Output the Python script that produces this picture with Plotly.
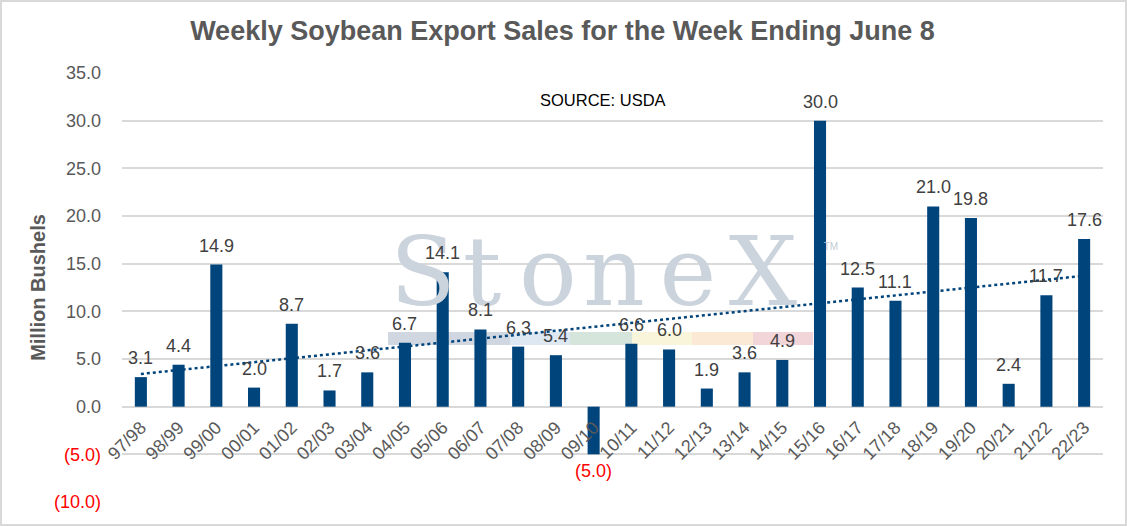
import numpy as np
import plotly.graph_objects as go

# ---------------- data ----------------
categories = ["97/98", "98/99", "99/00", "00/01", "01/02", "02/03", "03/04", "04/05",
              "05/06", "06/07", "07/08", "08/09", "09/10", "10/11", "11/12", "12/13",
              "13/14", "14/15", "15/16", "16/17", "17/18", "18/19", "19/20", "20/21",
              "21/22", "22/23"]
sales = [3.1, 4.4, 14.9, 2.0, 8.7, 1.7, 3.6, 6.7, 14.1, 8.1, 6.3, 5.4, -5.0, 6.6,
         6.0, 1.9, 3.6, 4.9, 30.0, 12.5, 11.1, 21.0, 19.8, 2.4, 11.7, 17.6]
y_ticks = [-10, -5, 0, 5, 10, 15, 20, 25, 30, 35]

title_text = "Weekly Soybean Export Sales for the Week Ending June 8"
source_text = "SOURCE: USDA"
y_title = "Million Bushels"

# ---------------- layout geometry ----------------
W, H = 1127, 527
ML, MR, MT, MB = 122, 24, 73, 25
PW, PH = W - ML - MR, H - MT - MB
Y0, Y1 = -10, 35
N = len(categories)


def fx(px):
    return (px - ML) / PW


def fy(py):
    return (H - MB - py) / PH


def dx(px):
    return (px - ML) / (PW / N) - 0.5


def dy(py):
    return Y1 - (py - MT) / PH * (Y1 - Y0)


def fmt(v):
    return f"{v:.1f}" if v >= 0 else f"({abs(v):.1f})"


BAR = "#00447C"
GRID = "#D9D9D9"
TXT = "#595959"

xs = list(range(N))
slope, intercept = np.polyfit(xs, sales, 1)
trend_y = [slope * x + intercept for x in xs]

fig = go.Figure()

# watermark (drawn first so it sits beneath the bars)
WM_SIZE = 96
wm_letters = ["S", "t", "o", "n", "e", "X"]
wm_px = [423, 482, 548, 614, 688, 763]
fig.add_trace(go.Scatter(
    x=[dx(p) for p in wm_px], y=[dy(308 - 0.28 * WM_SIZE)] * len(wm_px),
    mode="text", text=wm_letters, textposition="middle center",
    textfont=dict(family="DejaVu Serif", size=WM_SIZE, color="#CBD3DC"),
    hoverinfo="skip", showlegend=False, cliponaxis=False))
fig.add_trace(go.Scatter(
    x=[dx(831)], y=[dy(247)], mode="text", text=["TM"], textposition="middle center",
    textfont=dict(family="Liberation Sans", size=10, color="#C3CBD5"),
    hoverinfo="skip", showlegend=False, cliponaxis=False))

# trend line
fig.add_trace(go.Scatter(
    x=xs, y=trend_y, mode="lines",
    line=dict(color=BAR, width=2.5, dash="dot"),
    hoverinfo="skip", showlegend=False))

# bars
fig.add_trace(go.Bar(
    x=xs, y=sales, marker=dict(color=BAR, line=dict(width=0)),
    width=0.32, showlegend=False))

# data labels
for i, v in enumerate(sales):
    fig.add_annotation(
        x=i, y=v, xref="x", yref="y", text=fmt(v), showarrow=False,
        yanchor="bottom" if v >= 0 else "top",
        yshift=7 if v >= 0 else -5,
        font=dict(family="Liberation Sans", size=18,
                  color="#404040" if v >= 0 else "#FF0000"))

# stripe under watermark
stripe = [(388, 510, "#D0D7E0"), (510, 570, "#DDE8F3"), (570, 632, "#D5E5DC"),
          (632, 692, "#F8F5DA"), (692, 753, "#FBE9D5"), (753, 813, "#F2D5D8")]
shapes = []
for a, b, c in stripe:
    shapes.append(dict(type="rect", xref="paper", yref="paper",
                       x0=fx(a), x1=fx(b), y0=fy(345), y1=fy(332),
                       fillcolor=c, line=dict(width=0), layer="below"))
# outer border
shapes.append(dict(type="rect", xref="paper", yref="paper",
                   x0=fx(1), x1=fx(W - 1), y0=fy(H - 2), y1=fy(1),
                   line=dict(color=GRID, width=2), fillcolor="rgba(0,0,0,0)",
                   layer="above"))

ytext = [fmt(t) if t >= 0 else f"<span style='color:#FF0000'>{fmt(t)}</span>"
         for t in y_ticks]

fig.update_layout(
    width=W, height=H,
    margin=dict(l=ML, r=MR, t=MT, b=MB, pad=0),
    paper_bgcolor="white", plot_bgcolor="white",
    font=dict(family="Liberation Sans", color=TXT),
    title=dict(text=f"<b>{title_text}</b>", x=562.5 / W, xanchor="center",
               y=1 - 31 / H, yanchor="middle", yref="container",
               font=dict(family="Liberation Sans", size=27, color=TXT)),
    xaxis=dict(range=[-0.5, N - 0.5], tickmode="array", tickvals=xs,
               ticktext=categories, tickangle=-45,
               tickfont=dict(family="Liberation Sans", size=18, color=TXT),
               showgrid=False, zeroline=False, showline=False, ticks="",
               anchor="free", position=(0 - Y0) / (Y1 - Y0),
               ticklabelstandoff=6),
    yaxis=dict(range=[Y0, Y1], tickmode="array", tickvals=y_ticks, ticktext=ytext,
               tickfont=dict(family="Liberation Sans", size=18, color=TXT),
               showgrid=True, gridcolor=GRID, gridwidth=1.5,
               zeroline=True, zerolinecolor=GRID, zerolinewidth=1.5,
               showline=False, ticks="", ticklabelstandoff=20,
               title=dict(text=f"<b>{y_title}</b>", standoff=2,
                          font=dict(family="Liberation Sans", size=20, color=TXT))),
    shapes=shapes,
    bargap=0.68,
)
fig.add_annotation(x=fx(603), y=fy(89), xref="paper", yref="paper",
                   text=source_text, showarrow=False,
                   font=dict(family="Liberation Sans", size=16.5, color="#000000"))

fig.write_html("out.html", config={"displayModeBar": False},
               post_script="document.body.style.margin='0px';")
